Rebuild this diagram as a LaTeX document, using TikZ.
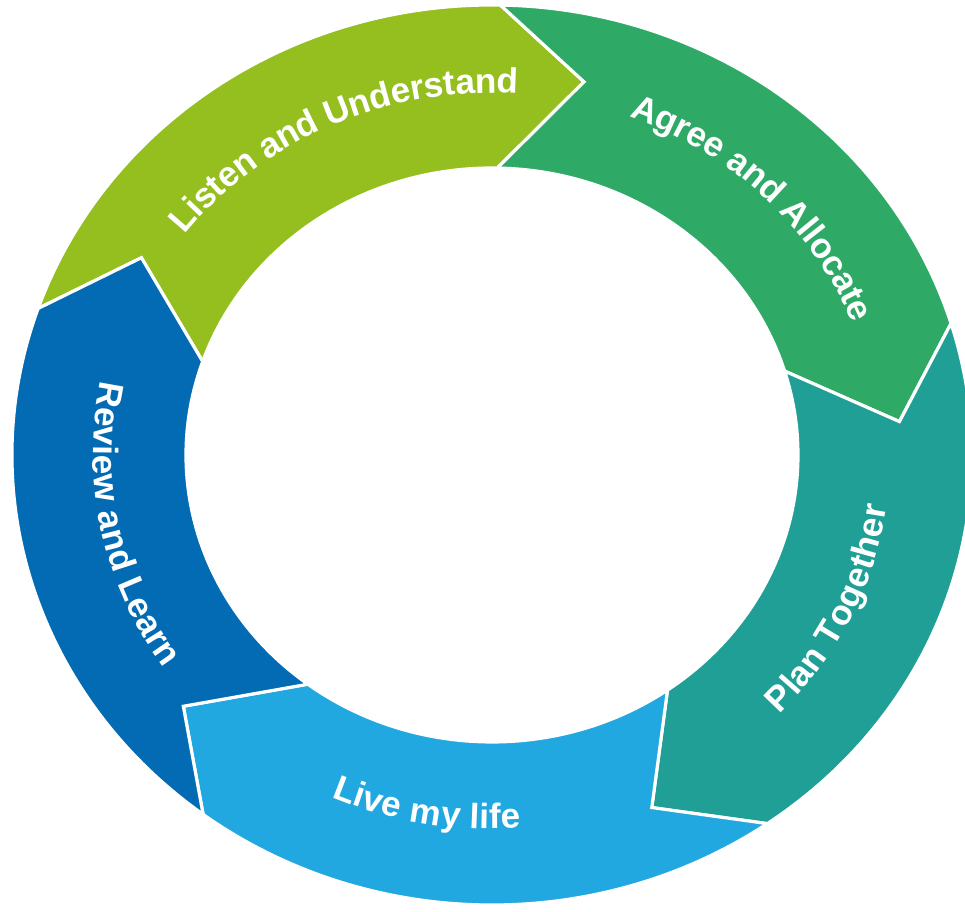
\documentclass[tikz,border=0pt]{standalone}
\usepackage{fontspec}
\newfontfamily\lblfont{Liberation Sans}
\usetikzlibrary{decorations.text}

\definecolor{listen}{RGB}{148,191,31}
\definecolor{agree}{RGB}{46,170,102}
\definecolor{plan}{RGB}{31,159,150}
\definecolor{live}{RGB}{34,168,224}
\definecolor{review}{RGB}{3,107,179}

\tikzset{
  seg/.style={fill=#1, draw=white, line width=1.8pt, line join=miter},
  lbl/.style={decorate, decoration={text along path, text align=center, raise=-0.34em,
    text={|\fontsize{20}{24}\lblfont\bfseries\color{white}|#1}}}
}

\begin{document}
\begin{tikzpicture}[x=0.02cm, y=0.02cm]
    \useasboundingbox (-492,-457) rectangle (473,455);
    \clip (-492,-457) rectangle (473,455);

    \foreach \a/\b/\c in {161/89/listen, 89/17/agree, 17/-55/plan, -55/-127/live, -127/-199/review}
      \draw[seg=\c] (\a:480 and 450) arc[start angle=\a, end angle=\b, x radius=480, y radius=450]
        -- ({\b-12}:409 and 383) -- (\b:306 and 287)
        arc[start angle=\b, end angle=\a, x radius=306, y radius=287]
        -- ({\a-12}:409 and 383) -- cycle;

    \path[lbl={Listen and Understand}] (149.5:393 and 368) arc[start angle=149.5, end angle=79.5, x radius=393, y radius=368];
    \path[lbl={Agree and Allocate}] (80:393 and 368) arc[start angle=80, end angle=10, x radius=393, y radius=368];
    \path[lbl={Plan Together}] (-60.5:393 and 368) arc[start angle=-60.5, end angle=9.5, x radius=393, y radius=368];
    \path[lbl={Live my life}] (-135:393 and 368) arc[start angle=-135, end angle=-65, x radius=393, y radius=368];
    \path[lbl={Review and Learn}] (156.5:393 and 368) arc[start angle=156.5, end angle=226.5, x radius=393, y radius=368];
\end{tikzpicture}
\end{document}
